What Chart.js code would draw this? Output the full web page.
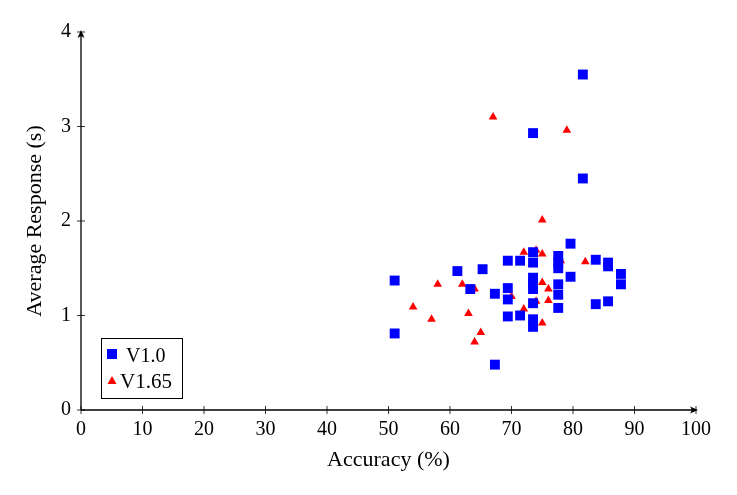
<!DOCTYPE html>
<html>
<head>
<meta charset="utf-8">
<script src="https://cdn.jsdelivr.net/npm/chart.js@4/dist/chart.umd.min.js"></script>
<style>
html,body{margin:0;padding:0;background:#fff;}
#wrap{width:737px;height:495px;}
</style>
</head>
<body>
<div id="wrap"><canvas id="c" width="737" height="495"></canvas></div>
<script>
const seriesNames = ["V1.0", "V1.65"];
const v10X = [51.0,51.0,61.2,63.3,65.3,67.3,67.3,69.4,69.4,69.4,69.4,71.4,71.4,73.5,73.5,73.5,73.5,73.5,73.5,73.5,73.5,73.5,77.6,77.6,77.6,77.6,77.6,77.6,79.6,79.6,81.6,81.6,83.7,83.7,85.7,85.7,85.7,87.8,87.8];
const v10Y = [1.37,0.81,1.47,1.28,1.49,1.23,0.48,1.58,1.29,1.17,0.99,1.58,1.00,2.93,1.67,1.56,1.40,1.34,1.28,1.13,0.96,0.88,1.63,1.56,1.50,1.33,1.22,1.08,1.76,1.41,3.55,2.45,1.59,1.12,1.56,1.52,1.15,1.44,1.33];
const v165X = [54,57,58,62,63,64,64,65,67,70,72,72,74,74,75,75,75,75,76,76,78,79,82];
const v165Y = [1.09,0.96,1.33,1.33,1.02,1.28,0.72,0.82,3.10,1.20,1.67,1.07,1.69,1.15,2.01,1.65,1.35,0.92,1.28,1.16,1.58,2.96,1.57];
const xTicks = [0,10,20,30,40,50,60,70,80,90,100];
const yTicks = [0,1,2,3,4];
const xTitle = "Accuracy (%)";
const yTitle = "Average Response (s)";

const FONT = "'Liberation Serif', 'DejaVu Serif', serif";
const toPts = (xs, ys) => xs.map((x, i) => ({x: x, y: ys[i]}));

const axesPlugin = {
  id: 'axesPlugin',
  afterDraw(chart) {
    const ctx = chart.ctx;
    const xs = chart.scales.x, ys = chart.scales.y;
    const x0 = xs.getPixelForValue(0), x1 = xs.getPixelForValue(100);
    const y0 = ys.getPixelForValue(0), y1 = ys.getPixelForValue(4);
    ctx.save();
    ctx.strokeStyle = '#000';
    ctx.fillStyle = '#000';
    ctx.lineWidth = 1.3;
    ctx.beginPath();
    ctx.moveTo(x0, y0); ctx.lineTo(x1, y0);
    ctx.moveTo(x0, y0); ctx.lineTo(x0, y1);
    ctx.stroke();
    ctx.lineWidth = 0.8;
    ctx.beginPath();
    xTicks.forEach(v => { const p = xs.getPixelForValue(v); ctx.moveTo(p, y0 - 4); ctx.lineTo(p, y0 + 4); });
    yTicks.forEach(v => { const p = ys.getPixelForValue(v); ctx.moveTo(x0 - 4, p); ctx.lineTo(x0 + 4, p); });
    ctx.stroke();
    // arrows
    ctx.beginPath();
    ctx.moveTo(x1 + 2, y0); ctx.lineTo(x1 - 6, y0 - 3.5); ctx.lineTo(x1 - 4, y0); ctx.lineTo(x1 - 6, y0 + 3.5); ctx.closePath();
    ctx.fill();
    ctx.beginPath();
    ctx.moveTo(x0, y1 - 2); ctx.lineTo(x0 - 3.5, y1 + 6); ctx.lineTo(x0, y1 + 4); ctx.lineTo(x0 + 3.5, y1 + 6); ctx.closePath();
    ctx.fill();
    // legend
    const lx = x0 + 20, ly = y0 - 72, lw = 81, lh = 60;
    ctx.fillStyle = '#fff';
    ctx.fillRect(lx, ly, lw, lh);
    ctx.strokeStyle = '#000';
    ctx.lineWidth = 1;
    ctx.strokeRect(lx + 0.5, ly + 0.5, lw, lh);
    const ds = chart.data.datasets;
    ctx.fillStyle = ds[0].backgroundColor;
    ctx.fillRect(lx + 6, ly + 11, 10, 10);
    ctx.fillStyle = ds[1].backgroundColor;
    ctx.beginPath();
    const tx = lx + 11, ty = ly + 43;
    ctx.moveTo(tx, ty - 5); ctx.lineTo(tx + 4.5, ty + 3); ctx.lineTo(tx - 4.5, ty + 3); ctx.closePath();
    ctx.fill();
    ctx.fillStyle = '#000';
    ctx.textBaseline = 'alphabetic';
    ctx.textAlign = 'left';
    ctx.font = "20px " + FONT;
    ctx.fillText(ds[0].label, lx + 25, ly + 24);
    ctx.font = "21px " + FONT;
    ctx.fillText(ds[1].label, lx + 19, ly + 50);
    ctx.restore();
  }
};

new Chart(document.getElementById('c'), {
  type: 'scatter',
  data: {
    datasets: [
      { label: seriesNames[0], data: toPts(v10X, v10Y), pointStyle: 'rect', pointRadius: 7, pointHoverRadius: 7,
        backgroundColor: '#0000ff', borderColor: '#0000ff', borderWidth: 0 },
      { label: seriesNames[1], data: toPts(v165X, v165Y), pointStyle: 'triangle', pointRadius: 5, pointHoverRadius: 5,
        backgroundColor: '#ff0000', borderColor: '#ff0000', borderWidth: 0 }
    ]
  },
  options: {
    responsive: false,
    animation: false,
    devicePixelRatio: 1,
    layout: { padding: { left: 0, right: 41, top: 32, bottom: 0 } },
    plugins: { legend: { display: false }, tooltip: { enabled: false } },
    scales: {
      x: {
        type: 'linear', min: 0, max: 100,
        afterBuildTicks: s => { s.ticks = xTicks.map(v => ({value: v})); },
        afterFit: s => { s.height = 85; },
        grid: { display: false, drawTicks: false },
        border: { display: false },
        ticks: { color: '#000', font: { family: FONT, size: 20 }, padding: 8, maxRotation: 0, autoSkip: false },
        title: { display: true, text: xTitle, color: '#000', font: { family: FONT, size: 22 }, padding: { top: 0, bottom: 22 } }
      },
      y: {
        type: 'linear', min: 0, max: 4,
        afterBuildTicks: s => { s.ticks = yTicks.map(v => ({value: v})); },
        afterFit: s => { s.width = 81; },
        grid: { display: false, drawTicks: false },
        border: { display: false },
        ticks: { color: '#000', font: { family: FONT, size: 20 }, padding: 10, autoSkip: false },
        title: { display: true, text: yTitle, color: '#000', font: { family: FONT, size: 22 }, padding: { top: 22, bottom: 0 } }
      }
    }
  },
  plugins: [axesPlugin]
});
</script>
</body>
</html>
